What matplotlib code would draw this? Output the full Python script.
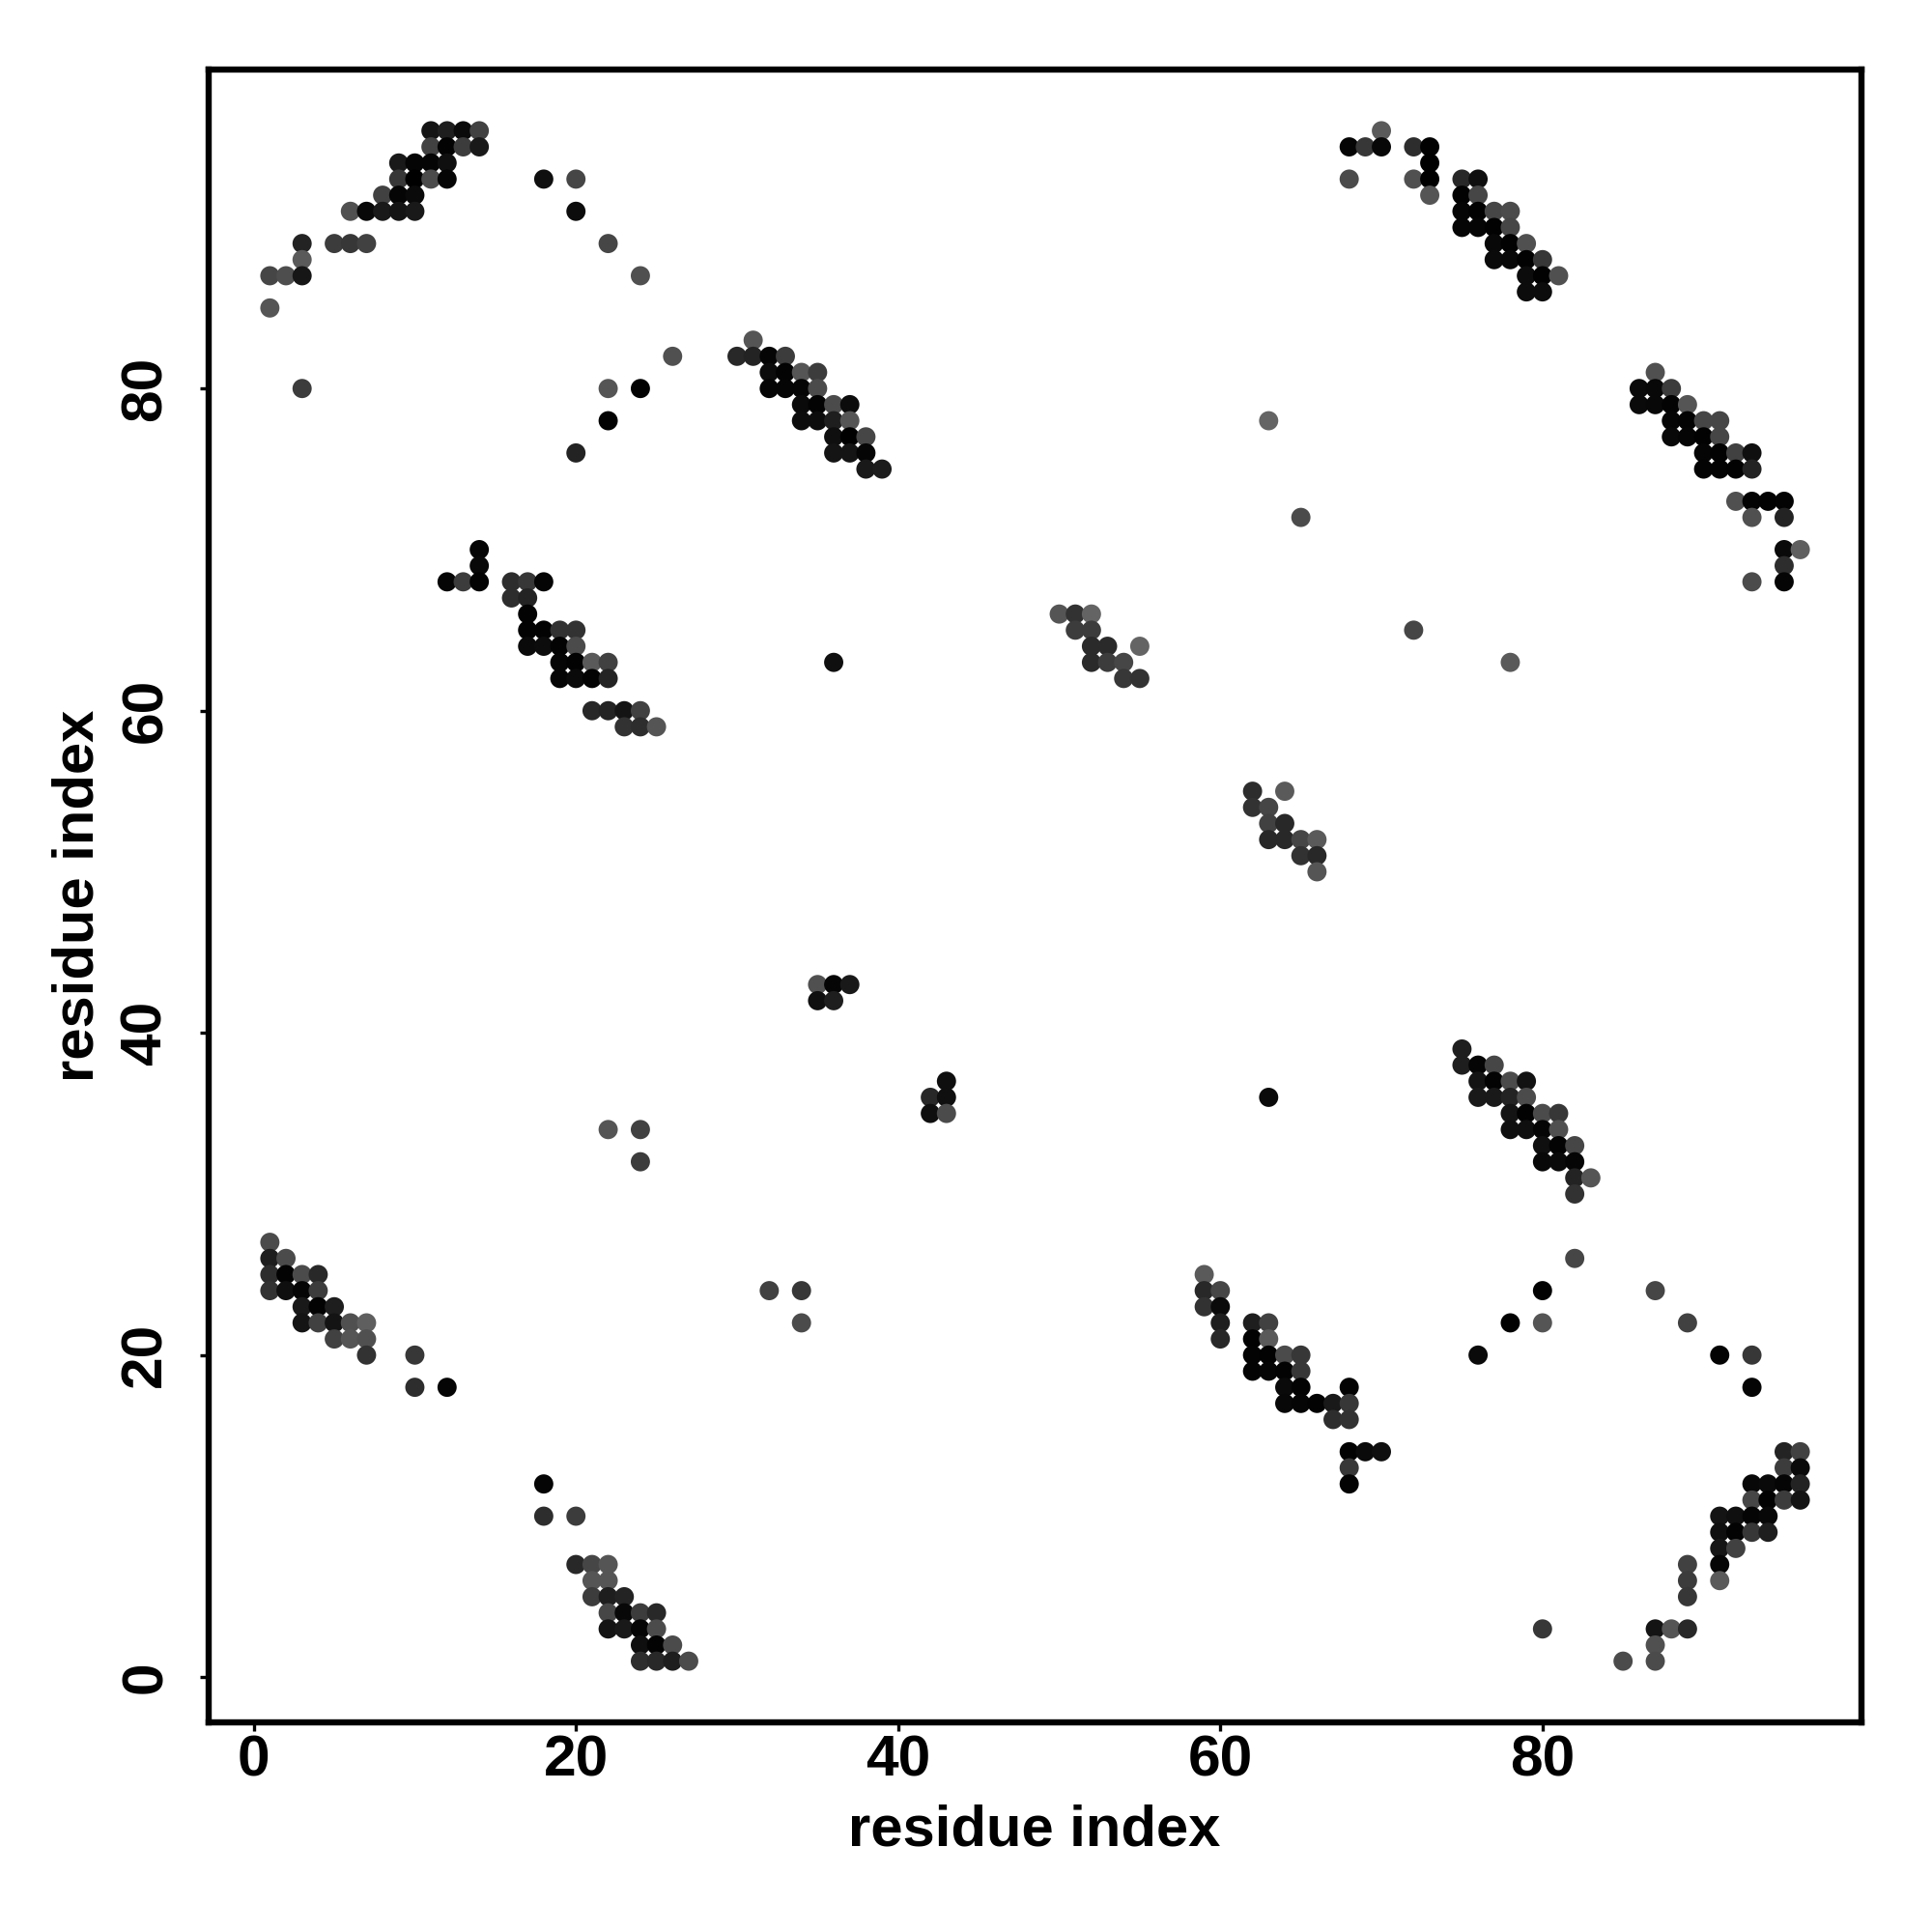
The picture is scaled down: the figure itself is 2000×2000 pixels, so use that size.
import matplotlib
matplotlib.use('Agg')
import matplotlib.pyplot as plt

# contact map, one line per row: y, then x and grey (0-255)
y_rows = [96, 95, 94, 93, 92, 91, 90, 89, 88, 87, 86, 85, 83, 82, 81, 80, 79, 78, 77, 76, 75,
          73, 72, 70, 69, 68, 67, 66, 65, 64, 63, 62, 60, 59, 55, 54, 53, 52, 51, 50,
          43, 42, 39, 38, 37, 36, 35, 34, 33, 32, 31, 30, 27, 26, 25, 24, 23, 22, 21,
          20, 19, 18, 17, 16, 14, 13, 12, 11, 10, 9, 8, 7, 6, 5, 4, 3, 2, 1]

x_rows = [
    [11, 12, 13, 14, 70],
    [11, 12, 13, 14, 68, 69, 70, 72, 73],
    [9, 10, 11, 12, 73],
    [9, 10, 11, 12, 18, 20, 68, 72, 73, 75, 76],
    [8, 9, 10, 73, 75, 76],
    [6, 7, 8, 9, 10, 20, 75, 76, 77, 78],
    [75, 76, 77, 78],
    [3, 5, 6, 7, 22, 77, 78, 79],
    [3, 77, 78, 79, 80],
    [1, 2, 3, 24, 79, 80, 81],
    [79, 80],
    [1],
    [31],
    [26, 30, 31, 32, 33],
    [32, 33, 34, 35, 87],
    [3, 22, 24, 32, 33, 34, 35, 86, 87, 88],
    [34, 35, 36, 37, 86, 87, 88, 89],
    [22, 34, 35, 36, 37, 63, 88, 89, 90, 91],
    [36, 37, 38, 88, 89, 90, 91],
    [20, 36, 37, 38, 90, 91, 92, 93],
    [38, 39, 90, 91, 92, 93],
    [92, 93, 94, 95],
    [65, 93, 95],
    [14, 95, 96],
    [14, 95],
    [12, 13, 14, 16, 17, 18, 93, 95],
    [16, 17],
    [17, 50, 51, 52],
    [17, 18, 19, 20, 51, 52, 72],
    [17, 18, 19, 20, 52, 53, 55],
    [19, 20, 21, 22, 36, 52, 53, 54, 78],
    [19, 20, 21, 22, 54, 55],
    [21, 22, 23, 24],
    [23, 24, 25],
    [62, 64],
    [62, 63],
    [63, 64],
    [63, 64, 65, 66],
    [65, 66],
    [66],
    [35, 36, 37],
    [35, 36],
    [75],
    [75, 76, 77],
    [43, 76, 77, 78, 79],
    [42, 43, 63, 76, 77, 78, 79],
    [42, 43, 78, 79, 80, 81],
    [22, 24, 78, 79, 80, 81],
    [80, 81, 82],
    [24, 80, 81, 82],
    [82, 83],
    [82],
    [1],
    [1, 2, 82],
    [1, 2, 3, 4, 59],
    [1, 2, 3, 4, 32, 34, 59, 60, 80, 87],
    [3, 4, 5, 59, 60],
    [3, 4, 5, 6, 7, 34, 60, 62, 63, 78, 80, 89],
    [5, 6, 7, 60, 62, 63],
    [7, 10, 62, 63, 64, 65, 76, 91, 93],
    [62, 63, 64, 65],
    [10, 12, 64, 65, 68, 93],
    [64, 65, 66, 67, 68],
    [67, 68],
    [68, 69, 70, 95, 96],
    [68, 95, 96],
    [18, 68, 93, 94, 95, 96],
    [93, 94, 95, 96],
    [18, 20, 91, 92, 93, 94],
    [91, 92, 93, 94],
    [91, 92],
    [20, 21, 22, 89, 91],
    [21, 22, 89, 91],
    [21, 22, 23, 89],
    [22, 23, 24, 25],
    [22, 23, 24, 25, 80, 87, 88, 89],
    [24, 25, 26, 87],
    [24, 25, 26, 27, 85, 87],
]

grey_rows = [
    [20, 30, 10, 65, 90],
    [65, 3, 60, 25, 5, 55, 8, 45, 2],
    [25, 5, 5, 15, 0],
    [55, 0, 75, 5, 15, 70, 75, 80, 0, 40, 15],
    [65, 5, 10, 85, 2, 70],
    [80, 8, 25, 20, 25, 12, 5, 2, 70, 75],
    [5, 5, 2, 70],
    [35, 60, 55, 65, 70, 8, 2, 80],
    [90, 10, 8, 2, 55],
    [70, 78, 22, 80, 12, 2, 80],
    [12, 12],
    [85],
    [85],
    [80, 40, 35, 5, 60],
    [12, 3, 85, 60, 80],
    [60, 85, 2, 5, 5, 5, 75, 10, 8, 60],
    [10, 3, 75, 12, 10, 8, 3, 85],
    [2, 12, 12, 30, 85, 100, 5, 3, 70, 70],
    [15, 0, 70, 8, 5, 2, 70],
    [35, 20, 20, 5, 5, 2, 65, 15],
    [25, 28, 3, 3, 2, 35],
    [80, 3, 2, 3],
    [75, 80, 35],
    [5, 10, 95],
    [8, 45],
    [5, 60, 3, 45, 55, 5, 75, 5],
    [45, 35],
    [3, 85, 50, 100],
    [3, 3, 50, 50, 60, 60, 70],
    [10, 12, 3, 75, 42, 42, 100],
    [5, 2, 90, 65, 15, 42, 60, 70, 90],
    [5, 10, 3, 35, 55, 50],
    [40, 35, 20, 65],
    [50, 45, 85],
    [45, 90],
    [50, 70],
    [65, 40],
    [40, 40, 70, 90],
    [50, 40],
    [85],
    [80, 5, 25],
    [15, 30],
    [30],
    [30, 5, 70],
    [15, 20, 3, 75, 18],
    [40, 15, 10, 25, 25, 35, 75],
    [15, 75, 20, 2, 75, 55],
    [85, 65, 15, 15, 5, 80],
    [15, 3, 70],
    [60, 8, 10, 5],
    [35, 85],
    [50],
    [75],
    [30, 75, 70],
    [45, 3, 75, 40, 90],
    [50, 15, 5, 60, 65, 55, 40, 70, 2, 70],
    [25, 3, 30, 50, 10],
    [20, 65, 20, 80, 95, 75, 30, 30, 65, 2, 85, 65],
    [65, 85, 80, 40, 2, 90],
    [50, 55, 3, 2, 75, 55, 10, 3, 55],
    [3, 5, 3, 55],
    [45, 5, 10, 3, 3, 5],
    [8, 5, 3, 25, 55],
    [45, 50],
    [2, 10, 15, 35, 65],
    [55, 60, 10],
    [5, 3, 8, 10, 5, 35],
    [70, 2, 60, 20],
    [45, 60, 20, 15, 5, 8],
    [15, 3, 55, 30],
    [22, 65],
    [40, 70, 85, 65, 5],
    [85, 85, 60, 90],
    [60, 30, 35, 55],
    [70, 8, 60, 40],
    [20, 25, 5, 75, 55, 20, 85, 40],
    [15, 3, 75, 80],
    [45, 40, 30, 75, 75, 75],
]

x_ticks = [0, 20, 40, 60, 80]
y_ticks = [0, 20, 40, 60, 80]

plt.rcParams['font.family'] = ['Liberation Sans', 'DejaVu Sans']
plt.rcParams['font.weight'] = 'bold'

xs = []
ys = []
colors = []
for i in range(len(y_rows)):
    for j in range(len(x_rows[i])):
        xs.append(x_rows[i][j])
        ys.append(y_rows[i])
        g = grey_rows[i][j] / 255
        colors.append((g, g, g))

fig = plt.figure(figsize=(20, 20), dpi=100)
ax = fig.add_axes([216 / 2000, 1 - 1783 / 2000, 1711 / 2000, 1711 / 2000])
ax.scatter(xs, ys, s=205, c=colors, linewidths=0, clip_on=False)

ax.set_xlim(-2.8, 99.8)
ax.set_ylim(-2.8, 99.8)
ax.set_xticks(x_ticks)
ax.set_yticks(y_ticks)
ax.tick_params(axis='both', length=6.8, width=2.4, labelsize=43.5)
ax.tick_params(axis='x', pad=2)
ax.tick_params(axis='y', pad=20)
for lab in ax.get_yticklabels():
    lab.set_rotation(90)
    lab.set_va('center')
for s in ax.spines.values():
    s.set_linewidth(4.6)

fig.text(1071 / 2000, 1 - 1895 / 2000, 'residue index', fontsize=43, fontweight='bold',
         ha='center', va='center')
fig.text(81 / 2000, 1 - 927 / 2000, 'residue index', fontsize=43, fontweight='bold',
         ha='center', va='center', rotation=90)

fig.savefig('out.png', dpi=100)
